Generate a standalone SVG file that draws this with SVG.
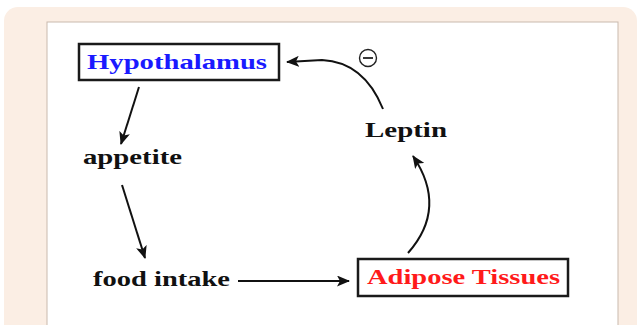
<svg xmlns="http://www.w3.org/2000/svg" width="639" height="325" viewBox="0 0 639 325">
  <style>
    .lbl { font-family: "Liberation Serif", "Times New Roman", serif; font-weight: bold; font-size: 21px; }
    .plain { fill: #111111; }
    .box { fill: #ffffff; stroke: #1a1a1a; stroke-width: 2.5; }
    .edge { fill: none; stroke: #111111; stroke-width: 2; }
  </style>
  <defs>
    <marker id="arrow" viewBox="0 0 13 11" refX="12" refY="5.5" markerWidth="13" markerHeight="11" markerUnits="userSpaceOnUse" orient="auto">
      <path d="M0,0 L13,5.5 L0,11 L3,5.5 Z" fill="#111111"/>
    </marker>
  </defs>

  <!-- page frame -->
  <rect x="0" y="0" width="639" height="325" fill="#ffffff"/>
  <rect x="4" y="7" width="633" height="340" rx="14" fill="#fbeee4"/>
  <rect x="47" y="22" width="571" height="320" fill="#ffffff" stroke="#c9b9ad" stroke-width="1"/>

  <!-- connectors -->
  <g id="connectors">
    <path class="edge" d="M139,87 L121,144" marker-end="url(#arrow)"/>
    <path class="edge" d="M122,185 L145,258" marker-end="url(#arrow)"/>
    <path class="edge" d="M238,281 L349,281" marker-end="url(#arrow)"/>
    <path class="edge" d="M408,253 Q448,208 413,156" marker-end="url(#arrow)"/>
    <path class="edge" d="M383,109 Q364,62 322,60 L287,62" marker-end="url(#arrow)"/>
    <g id="inhibit">
      <circle cx="368" cy="58" r="8.5" fill="none" stroke="#222222" stroke-width="1.4"/>
      <line x1="363" y1="58" x2="373" y2="58" stroke="#222222" stroke-width="1.8"/>
    </g>
  </g>

  <!-- nodes -->
  <g id="hypothalamus">
    <rect class="box" x="79" y="44" width="200" height="36"/>
    <text class="lbl" x="87" y="69" fill="#1a1aff" textLength="180" lengthAdjust="spacingAndGlyphs">Hypothalamus</text>
  </g>
  <g id="appetite">
    <text class="lbl plain" x="83" y="164" textLength="99" lengthAdjust="spacingAndGlyphs">appetite</text>
  </g>
  <g id="food-intake">
    <text class="lbl plain" x="93" y="286" textLength="137" lengthAdjust="spacingAndGlyphs">food intake</text>
  </g>
  <g id="adipose">
    <rect class="box" x="358" y="259" width="210" height="37"/>
    <text class="lbl" x="367" y="284" fill="#ff1a1a" textLength="193" lengthAdjust="spacingAndGlyphs">Adipose Tissues</text>
  </g>
  <g id="leptin">
    <text class="lbl plain" x="365" y="137" textLength="82" lengthAdjust="spacingAndGlyphs">Leptin</text>
  </g>
</svg>
